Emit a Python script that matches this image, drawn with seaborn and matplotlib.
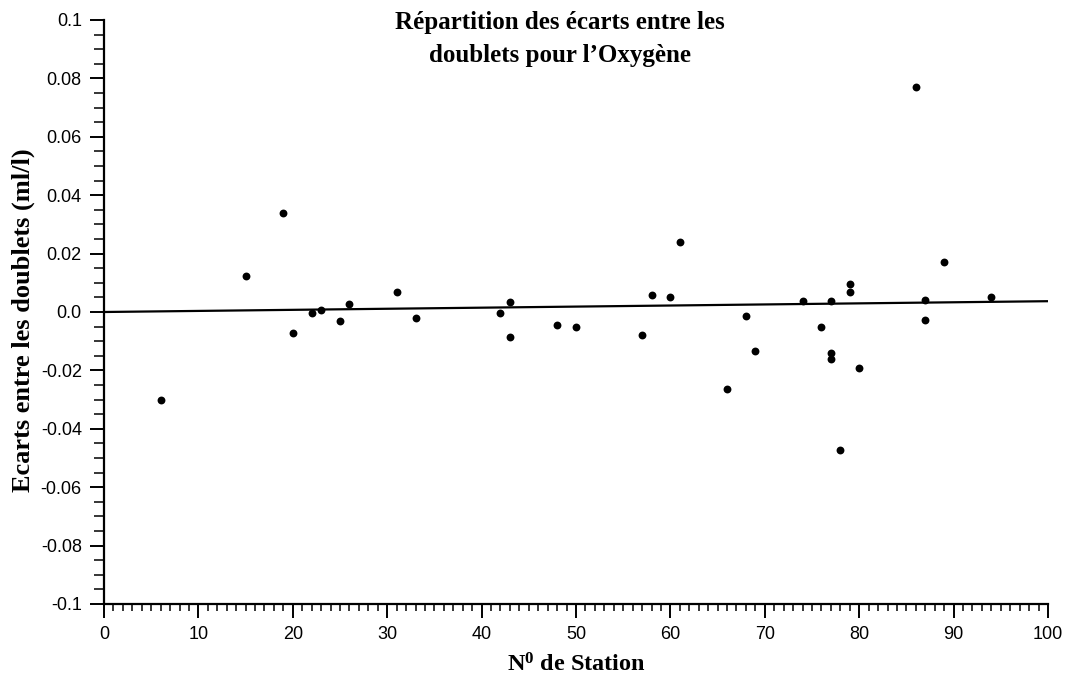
import matplotlib
matplotlib.use("Agg")
import matplotlib.pyplot as plt
from matplotlib.ticker import MultipleLocator, FixedLocator, FixedFormatter
import seaborn as sns
import pandas as pd

# ---- data ----
station = [6, 15, 19, 20, 22, 23, 25, 26, 31, 33, 42, 43, 43, 48, 50,
           57, 58, 60, 61, 66, 68, 69, 74, 76, 77, 77, 77, 78, 79, 79,
           80, 86, 87, 87, 89, 94]
ecart = [-0.030, 0.0125, 0.0338, -0.0071, -0.0002, 0.0008, -0.0030, 0.0029,
         0.0070, -0.0019, -0.0005, 0.0035, -0.0085, -0.0043, -0.0052,
         -0.0080, 0.0059, 0.0052, 0.0240, -0.0265, -0.0014, -0.0135,
         0.0038, -0.0052, 0.0038, -0.0141, -0.0162, -0.0471, 0.0097,
         0.0067, -0.0191, 0.0770, 0.0042, -0.0029, 0.0172, 0.0053]
trend_x = [0, 100]
trend_y = [0.0, 0.0037]
xticks = [0, 10, 20, 30, 40, 50, 60, 70, 80, 90, 100]
yticks = [-0.1, -0.08, -0.06, -0.04, -0.02, 0.0, 0.02, 0.04, 0.06, 0.08, 0.1]
ytick_labels = ["-0.1", "-0.08", "-0.06", "-0.04", "-0.02", "0.0",
                "0.02", "0.04", "0.06", "0.08", "0.1"]
title = "Répartition des écarts entre les\ndoublets pour l’Oxygène"
xlabel = r"N$^{\mathrm{0}}$ de Station"
ylabel = "Ecarts entre les doublets (ml/l)"

sns.set_style("ticks")
plt.rcParams['font.family'] = ['Liberation Sans', 'DejaVu Sans']
plt.rcParams['text.color'] = 'black'
plt.rcParams['axes.labelcolor'] = 'black'
plt.rcParams['xtick.color'] = 'black'
plt.rcParams['ytick.color'] = 'black'
plt.rcParams['mathtext.fontset'] = 'custom'
plt.rcParams['mathtext.rm'] = 'Liberation Serif:bold'
plt.rcParams['mathtext.it'] = 'Liberation Serif:bold'
plt.rcParams['mathtext.bf'] = 'Liberation Serif:bold'

df = pd.DataFrame({"station": station, "ecart": ecart})
trend = pd.DataFrame({"x": trend_x, "y": trend_y})

fig = plt.figure(figsize=(10.72, 6.83), dpi=100)
ax = fig.add_axes([104/1072, 1 - 604/683, (1048-104)/1072, (604-20)/683])

sns.lineplot(data=trend, x="x", y="y", ax=ax, color="black", linewidth=1.6)
sns.scatterplot(data=df, x="station", y="ecart", ax=ax, color="black",
                s=32, edgecolor="black", linewidth=0, zorder=3)

ax.set_xlim(0, 100)
ax.set_ylim(-0.1, 0.1)
ax.xaxis.set_major_locator(FixedLocator(xticks))
ax.xaxis.set_minor_locator(MultipleLocator(1))
ax.yaxis.set_major_locator(FixedLocator(yticks))
ax.yaxis.set_major_formatter(FixedFormatter(ytick_labels))
ax.yaxis.set_minor_locator(MultipleLocator(0.005))

for s in ["top", "right"]:
    ax.spines[s].set_visible(False)
for s in ["left", "bottom"]:
    ax.spines[s].set_linewidth(1.6)
    ax.spines[s].set_color("black")

ax.tick_params(axis="both", which="major", direction="out", length=10,
               width=1.4, labelsize=13, colors="black", labelcolor="black", pad=6)
ax.tick_params(axis="y", which="minor", direction="out", length=7, width=1.1)
ax.tick_params(axis="x", which="minor", direction="out", length=5, width=1.1)

serif = ['Liberation Serif', 'DejaVu Serif']
ax.set_xlabel(xlabel, family=serif, fontweight="bold", fontsize=17.5, color="black")
ax.set_ylabel(ylabel, family=serif, fontweight="bold", fontsize=19, color="black")
ax.xaxis.set_label_coords(0.5, -(665 - 604) / (604 - 20), transform=ax.transAxes)
ax.xaxis.label.set_va("center")
ax.yaxis.set_label_coords(-(104 - 23) / (1048 - 104), (604 - 320) / (604 - 20))
ax.yaxis.label.set_va("center")

fig.text(560/1072, 1 - 39/683, title, family=serif, fontweight="bold",
         fontsize=18, ha="center", va="center", linespacing=1.55, color="black")

fig.savefig("out.png", dpi=100, facecolor="white")
